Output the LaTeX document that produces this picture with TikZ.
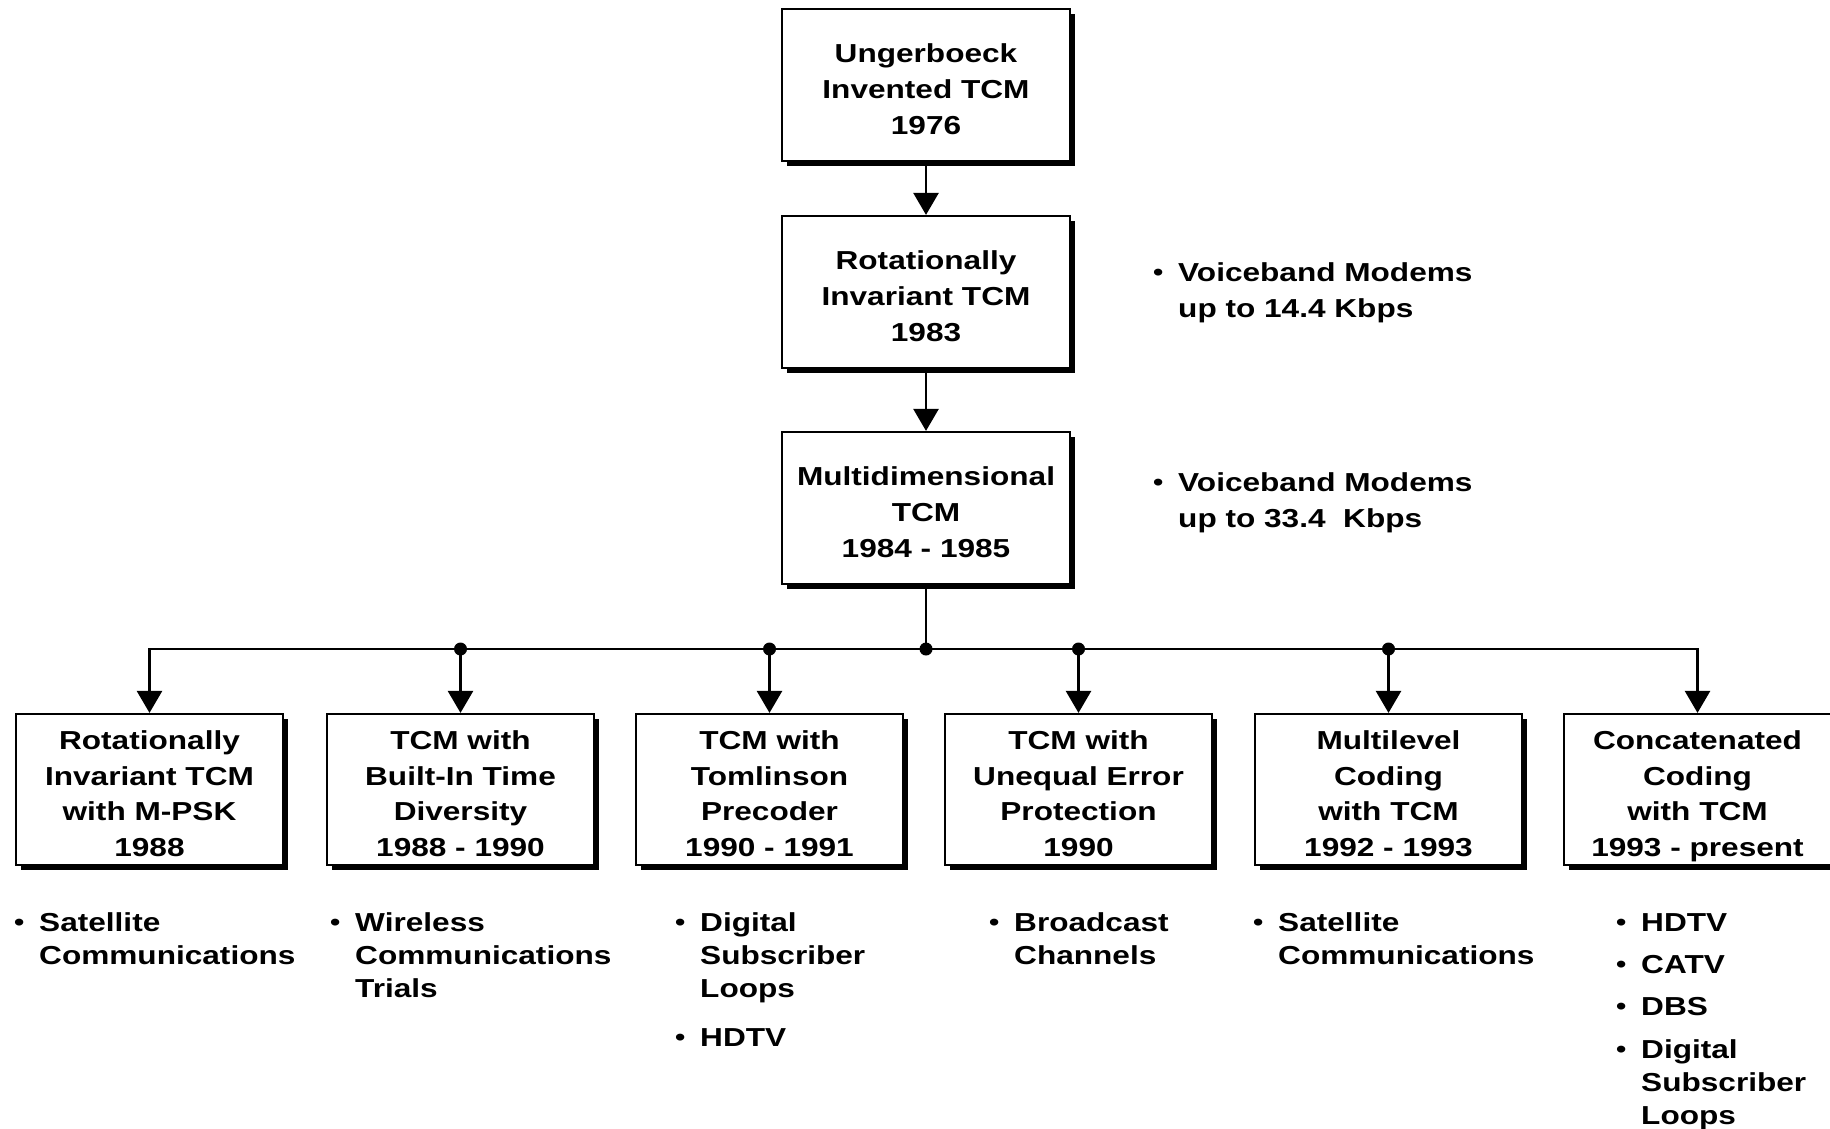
\documentclass[tikz,border=0pt]{standalone}
\usepackage{fontspec}
\setmainfont{Liberation Sans}[FakeStretch=1.215]
\usetikzlibrary{arrows.meta,shadows}
\newcommand\tcmboxfont{\fontsize{26}{35.8}\selectfont\bfseries}
\newcommand\tcmlistfont{\fontsize{26}{33}\selectfont\bfseries}
\newcommand\tcmsidefont{\fontsize{26}{36}\selectfont\bfseries}
\newcommand\bul{{\fontsize{24}{24}\selectfont\raisebox{0.5pt}{•}}}
\newcommand\tp{\rule{0pt}{27pt}}
\begin{document}
\begin{tikzpicture}[x=1pt,y=-1pt,
  box/.style={draw,line width=2.2pt,fill=white,align=center,inner sep=0pt,
    font=\tcmboxfont,text depth=0pt,
    drop shadow={shadow xshift=5pt,shadow yshift=-5pt,opacity=1,fill=black}},
  topbox/.style={box,minimum width=288pt,minimum height=152pt},
  botbox/.style={box,minimum width=267pt,minimum height=151pt},
  lst/.style={anchor=base west,inner sep=0pt,font=\tcmlistfont},
  side/.style={anchor=base west,inner sep=0pt,font=\tcmsidefont},
  arr/.style={line width=2.6pt,-{Triangle[length=22pt,width=25pt]}},
  ln/.style={line width=2.6pt}]
\path[use as bounding box,fill=white] (0,0) rectangle (1830,1128);

% top chain
\node[topbox] (b1) at (926,85) {\tp Ungerboeck\\Invented TCM\\1976};
\node[topbox] (b2) at (926,292) {\tp Rotationally\\Invariant TCM\\1983};
\node[topbox] (b3) at (926,508) {\tp Multidimensional\\TCM\\1984 - 1985};
\draw[arr] (b1) -- (b2);
\draw[arr] (b2) -- (b3);

% bottom boxes
\node[botbox] (c1) at (149.5,789.5) {\tp Rotationally\\Invariant TCM\\with M-PSK\\1988};
\node[botbox] (c2) at (460.5,789.5) {\tp TCM with\\Built-In Time\\Diversity\\1988 - 1990};
\node[botbox] (c3) at (769.5,789.5) {\tp TCM with\\Tomlinson\\Precoder\\1990 - 1991};
\node[botbox] (c4) at (1078.5,789.5) {\tp TCM with\\Unequal Error\\Protection\\1990};
\node[botbox] (c5) at (1388.5,789.5) {\tp Multilevel\\Coding\\with TCM\\1992 - 1993};
\node[botbox] (c6) at (1697.5,789.5) {\tp Concatenated\\Coding\\with TCM\\1993 - present};

% branching
\coordinate (j0) at (b3.south |- 0,649);
\coordinate (j2) at (c2.north |- j0);
\coordinate (j3) at (c3.north |- j0);
\coordinate (j4) at (c4.north |- j0);
\coordinate (j5) at (c5.north |- j0);
\draw[ln] (b3.south) -- (j0);
\draw[arr] (j0) -| (c1.north);
\draw[arr] (j0) -| (c6.north);
\draw[arr] (j2) -- (c2.north);
\draw[arr] (j3) -- (c3.north);
\draw[arr] (j4) -- (c4.north);
\draw[arr] (j5) -- (c5.north);
\foreach \j in {j0,j2,j3,j4,j5} \fill (\j) circle (6.5);

% side notes
\node[side] (s1) at (1153,281) {\begin{tabular}[t]{@{}p{25pt}@{}l@{}}\bul & Voiceband Modems\\ & up to 14.4 Kbps\end{tabular}};
\node[side] (s2) at (1153,491) {\begin{tabular}[t]{@{}p{25pt}@{}l@{}}\bul & Voiceband Modems\\ & up to 33.4~~Kbps\end{tabular}};

% bottom lists
\node[lst] (l1) at (14,931) {\begin{tabular}[t]{@{}p{25pt}@{}l@{}}\bul & Satellite\\ & Communications\end{tabular}};
\node[lst] (l2) at (330,931) {\begin{tabular}[t]{@{}p{25pt}@{}l@{}}\bul & Wireless\\ & Communications\\ & Trials\end{tabular}};
\node[lst] (l3) at (675,931) {\begin{tabular}[t]{@{}p{25pt}@{}l@{}}\bul & Digital\\ & Subscriber\\ & Loops\\[16pt] \bul & HDTV\end{tabular}};
\node[lst] (l4) at (989,931) {\begin{tabular}[t]{@{}p{25pt}@{}l@{}}\bul & Broadcast\\ & Channels\end{tabular}};
\node[lst] (l5) at (1253,931) {\begin{tabular}[t]{@{}p{25pt}@{}l@{}}\bul & Satellite\\ & Communications\end{tabular}};
\node[lst] (l6) at (1616,931) {\begin{tabular}[t]{@{}p{25pt}@{}l@{}}\bul & HDTV\\[9pt] \bul & CATV\\[9pt] \bul & DBS\\[10pt] \bul & Digital\\ & Subscriber\\ & Loops\end{tabular}};
\end{tikzpicture}
\end{document}
